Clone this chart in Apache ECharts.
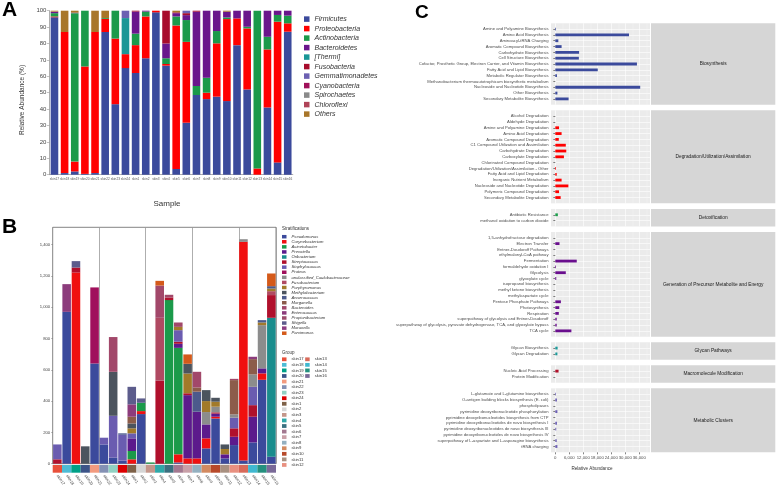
<!DOCTYPE html>
<html><head><meta charset="utf-8">
<script src="https://cdn.jsdelivr.net/npm/echarts@6/dist/echarts.min.js"></script>
<style>html,body{margin:0;padding:0;background:#fff}#c{width:777px;height:489px}</style>
</head><body><div id="c"></div><script>
// ---------- shared ----------
const samples = ['skin17','skin18','skin19','skin20','skin21','skin22','skin23','skin24','skin1','skin2','skin3','skin4','skin5','skin6','skin7','skin8','skin9','skin10','skin11','skin12','skin13','skin14','skin15','skin16'];

// ---------- Panel A : relative abundance (%) by phylum ----------
const phyla = ['Firmicutes','Proteobacteria','Actinobacteria','Bacteroidetes','[Thermi]','Fusobacteria','Gemmatimonadetes','Cyanobacteria','Spirochaetes','Chloroflexi','Others'];
const phylaColors = ['#3B4A9C','#FF0000','#1B9A4A','#6A168C','#1A9696','#A80C2C','#6C60B2','#A0105A','#8A8A8A','#B04458','#A8762A'];
const firmicutes     = [96,1,2,0.5,1,87,43,65,62,71,99,66.5,3.5,31.7,48.6,46.1,47.6,44.9,79,52,0,41,7.5,87.2];
const proteobacteria = [0.5,86,6,65.5,86,8,40,8.5,17,25.5,1,1,87.5,49.3,0,3.9,32.5,50,16.3,37.2,3.8,35.4,85.8,5.1];
const actinobacteria = [2,0,90.5,34,0,0.5,17,0,7,3,0,3.5,5.5,13.3,5.5,9.1,7.5,1,0,1,96.2,7.7,4.1,4.7];
const bacteroidetes  = [0.8,0,0.3,0,0,0,0,0,13.5,0.5,0,9,2,3,45.3,40.9,12.4,3.5,4.7,9.8,0,15.9,2.6,3];
const thermi         = [0,0,0,0,0,0,0,22,0,0,0,0,0,0,0,0,0,0,0,0,0,0,0,0];
const fusobacteria   = [0,0,0,0,0,0,0,0,0.5,0,0,20,0.5,1.2,0.6,0,0,0,0,0,0,0,0,0];
const gemmatimonadetes = [0,0,0,0,0,0,0,4.5,0,0,0,0,0,1.5,0,0,0,0,0,0,0,0,0,0];
const cyanobacteria  = [0,0,0,0,0,0,0,0,0,0,0,0,0,0,0,0,0,0,0,0,0,0,0,0];
const spirochaetes   = [0,0,0,0,0,0,0,0,0,0,0,0,0,0,0,0,0,0,0,0,0,0,0,0];
const chloroflexi    = [0.2,0,0,0,0,0,0,0,0,0,0,0,0,0,0,0,0,0,0,0,0,0,0,0];
const othersA        = [0.5,13,1.2,0,13,4.5,0,0,0,0,0,0,1,0,0,0,0,0.6,0,0,0,0,0,0];
const aValues = [firmicutes,proteobacteria,actinobacteria,bacteroidetes,thermi,fusobacteria,gemmatimonadetes,cyanobacteria,spirochaetes,chloroflexi,othersA];
const aTicks = [0,10,20,30,40,50,60,70,80,90,100];

// ---------- Panel B : absolute counts by genus ----------
const genera = ['Pseudomonas','Corynebacterium','Acinetobacter','Prevotella','Oribacterium','Streptococcus','Staphylococcus','Proteus','unclassified_Caulobacteraceae','Fusobacterium','Porphyromonas','Methylobacterium','Anaerococcus','Morganella','Bacteroides','Enterococcus','Propionibacterium','Shigella','Moraxella','Parvimonas'];
const generaColors = ['#3B4A9C','#F01010','#1B9A4A','#5C1A8C','#1A8C8C','#B0102C','#6A5CB0','#A0105C','#8C8C8C','#B04A62','#A27A2A','#4C545E','#4C5A8C','#8C5C4A','#A2486A','#8C3C7C','#9C4C6C','#5C5C8C','#8C3C82','#D45A1A'];
const pseudomonas      = [0,970,0,0,640,123,38,20,0,317,0,0,0,8,0,0,98,289,34,119,21,136,536,45];
const corynebacterium  = [0,0,1221,0,0,0,0,0,28,19,0,0,0,52,34,34,64,11,0,0,1396,0,41,0];
const acinetobacter    = [0,0,0,0,0,0,0,0,53,53,8,0,1045,680,0,0,0,0,0,0,0,0,0,0];
const prevotella       = [0,0,0,0,0,0,0,0,81,0,0,0,0,26,404,298,89,20,26,53,0,164,32,0];
const oribacterium     = [0,0,0,0,0,0,0,0,0,0,0,0,0,0,0,0,0,0,0,0,0,0,0,887];
const streptococcus    = [28,0,32,0,0,0,0,0,0,0,0,530,17,13,12,0,0,8,0,54,0,74,0,145];
const staphylococcus   = [95,0,0,0,0,43,268,165,32,0,0,0,0,74,0,0,0,0,0,68,0,117,0,0];
const proteus          = [0,0,0,0,486,0,0,0,0,0,0,0,0,0,0,0,0,0,0,0,0,0,0,0];
const unclassifiedCaulo= [0,0,0,0,0,0,0,0,0,0,0,0,0,0,0,0,79,36,0,21,17,79,276,0];
const fusobacterium    = [0,0,0,0,0,0,0,0,0,0,0,402,0,0,0,0,0,0,0,0,0,0,0,25];
const porphyromonas    = [0,0,0,0,0,0,0,0,32,0,0,0,0,21,126,0,70,32,34,0,0,0,17,17];
const methylobacterium = [0,0,0,111,0,0,281,0,31,0,0,0,0,0,62,0,70,25,29,0,0,0,0,0];
const anaerococcus     = [0,0,0,0,0,0,0,9,0,0,0,0,0,0,0,128,0,0,0,0,0,0,15,15];
const morganella       = [0,0,0,0,0,0,0,0,43,0,0,0,0,0,0,27,0,0,0,219,0,98,0,0];
const bacteroides      = [0,0,0,0,0,0,222,0,0,0,0,206,17,28,0,100,0,0,0,8,0,0,0,0];
const enterococcus     = [0,177,0,0,0,0,0,0,79,0,0,0,0,0,0,0,0,0,0,0,0,15,0,0];
const propionibacterium= [0,0,0,0,0,0,0,0,0,0,0,0,0,0,0,0,0,0,0,0,0,0,0,0];
const shigella         = [0,0,41,0,0,0,0,0,112,28,0,0,0,0,0,0,0,0,0,0,0,0,0,0];
const moraxella        = [0,0,0,0,0,0,0,0,0,0,0,0,0,0,0,0,0,0,0,0,0,0,0,0];
const parvimonas       = [0,0,0,0,0,0,0,0,0,0,0,30,0,0,60,0,0,0,0,0,0,0,0,81];
const bValues = [pseudomonas,corynebacterium,acinetobacter,prevotella,oribacterium,streptococcus,staphylococcus,proteus,unclassifiedCaulo,fusobacterium,porphyromonas,methylobacterium,anaerococcus,morganella,bacteroides,enterococcus,propionibacterium,shigella,moraxella,parvimonas];
const groupColors = ['#E8503A','#4DBBD5','#00A087','#3C5488','#F39B7F','#8491B4','#91D1C2','#DC0000','#7E6148','#D5D5D5','#C4968A','#2FA8A8','#3A7080','#A37890','#C9A0A8','#94B0C0','#D38A60','#B84A2A','#A89080','#E89080','#D86A5A','#40B8D0','#24907E','#7A6A98'];

// ---------- Panel C : pathway abundance ----------
const bioNames = ['Amine and Polyamine Biosynthesis','Amino Acid Biosynthesis','Aminoacyl-tRNA Charging','Aromatic Compound Biosynthesis','Carbohydrate Biosynthesis','Cell Structure Biosynthesis','Cofactor, Prosthetic Group, Electron Carrier, and Vitamin Biosynthesis','Fatty Acid and Lipid Biosynthesis','Metabolic Regulator Biosynthesis','Methanobacterium thermoautotrophicum biosynthetic metabolism','Nucleoside and Nucleotide Biosynthesis','Other Biosynthesis','Secondary Metabolite Biosynthesis'];
const bioVals = [300,31600,1300,2700,10200,10100,35000,18200,700,0,36400,900,5700];
const degNames = ['Alcohol Degradation','Aldehyde Degradation','Amine and Polyamine Degradation','Amino Acid Degradation','Aromatic Compound Degradation','C1 Compound Utilization and Assimilation','Carbohydrate Degradation','Carboxylate Degradation','Chlorinated Compound Degradation','Degradation/Utilization/Assimilation - Other','Fatty Acid and Lipid Degradation','Inorganic Nutrient Metabolism','Nucleoside and Nucleotide Degradation','Polymeric Compound Degradation','Secondary Metabolite Degradation'];
const degVals = [0,0,1600,2700,1500,4500,4700,3700,0,300,600,2700,5600,1600,2300];
const detoxNames = ['Antibiotic Resistance','methanol oxidation to carbon dioxide'];
const detoxVals = [1100,0];
const genNames = ['1,5-anhydrofructose degradation','Electron Transfer','Entner-Doudoroff Pathways','ethylmalonyl-CoA pathway','Fermentation','formaldehyde oxidation I','Glycolysis','glyoxylate cycle','isopropanol biosynthesis','methyl ketone biosynthesis','methylaspartate cycle','Pentose Phosphate Pathways','Photosynthesis','Respiration','superpathway of glycolysis and Entner-Doudoroff','superpathway of glycolysis, pyruvate dehydrogenase, TCA, and glyoxylate bypass','TCA cycle'];
const genVals = [0,1800,0,0,9200,300,4500,400,0,0,0,2400,1700,1500,600,600,6900];
const glycanNames = ['Glycan Biosynthesis','Glycan Degradation'];
const glycanVals = [1000,900];
const macroNames = ['Nucleic Acid Processing','Protein Modification'];
const macroVals = [1400,0];
const metaNames = ['L-glutamate and L-glutamine biosynthesis','O-antigen building blocks biosynthesis (E. coli)','phospholipases','pyrimidine deoxyribonucleotide phosphorylation','pyrimidine deoxyribonucleotides biosynthesis from CTP','pyrimidine deoxyribonucleotides de novo biosynthesis I','pyrimidine deoxyribonucleotides de novo biosynthesis III','pyrimidine deoxyribonucleotides de novo biosynthesis IV','superpathway of L-aspartate and L-asparagine biosynthesis','tRNA charging'];
const metaVals = [300,700,0,900,0,700,400,0,600,900];
const stripLabels = ['Biosynthesis','Degradation/Utilization/Assimilation','Detoxification','Generation of Precursor Metabolite and Energy','Glycan Pathways','Macromolecule Modification','Metabolic Clusters'];
const cColors = ['#3B4A9C','#FF0000','#1B9E4B','#6A0F8E','#1A9A9A','#B0102A','#6C5FB5'];
const cTicks = [0,6000,12000,18000,24000,30000,36000];

// ---------- build option ----------
const font = 'Liberation Sans, Arial, sans-serif';
const grids = [], xAxes = [], yAxes = [], series = [], graphics = [];

// Panel A
grids.push({left:49.4, right:777-292.8, top:10.7, bottom:489-174.7});
xAxes.push({type:'category', gridIndex:0, data:samples,
  axisLine:{lineStyle:{color:'#999', width:0.8}}, axisTick:{length:1.5, alignWithLabel:true, lineStyle:{color:'#999',width:0.6}},
  axisLabel:{fontSize:3.2, color:'#555', margin:3, interval:0}});
yAxes.push({type:'value', gridIndex:0, min:aTicks[0], max:aTicks[aTicks.length-1], interval:aTicks[1]-aTicks[0],
  axisLine:{show:true, lineStyle:{color:'#999', width:0.8}}, axisTick:{show:true, length:2.5, lineStyle:{color:'#999', width:0.6}},
  axisLabel:{fontSize:6, color:'#444', margin:3}, splitLine:{show:false}});
phyla.forEach((p,i)=>series.push({type:'bar', name:p, xAxisIndex:0, yAxisIndex:0, stack:'A', data:aValues[i],
  barCategoryGap:'25%', itemStyle:{color:phylaColors[i]}}));

// Panel B main
grids.push({left:52.7, right:777-276, top:227.3, bottom:489-463.7, show:true, borderColor:'#666', borderWidth:0.8, backgroundColor:'transparent'});
xAxes.push({type:'category', gridIndex:1, data:samples, axisLine:{show:false}, axisTick:{show:false}, axisLabel:{show:false},
  splitLine:{show:true, lineStyle:{color:'#999', width:0.8}}});
yAxes.push({type:'value', gridIndex:1, min:0, max:1510, interval:200,
  axisLine:{show:false}, axisTick:{show:true, length:1.5, lineStyle:{color:'#666', width:0.5}},
  axisLabel:{fontSize:4.2, color:'#444', margin:2.5, showMaxLabel:false, formatter:v=>v.toLocaleString('en-US')},
  splitLine:{show:false}});
genera.forEach((g,i)=>series.push({type:'bar', name:g, xAxisIndex:1, yAxisIndex:1, stack:'B', data:bValues[i],
  barCategoryGap:'8%', itemStyle:{color:generaColors[i]}}));

// Panel B group strip
grids.push({left:52.7, right:777-276, top:465, height:7.7});
xAxes.push({type:'category', gridIndex:2, data:samples, axisLine:{show:false}, axisTick:{show:false},
  axisLabel:{fontSize:4, color:'#444', rotate:-55, margin:2.5, interval:0}});
yAxes.push({type:'value', gridIndex:2, min:0, max:1, show:false});
samples.forEach((s,i)=>series.push({type:'bar', name:s, xAxisIndex:2, yAxisIndex:2, stack:'G', barCategoryGap:'0%',
  data:samples.map((t,j)=> j===i ? 1 : '-'), itemStyle:{color:groupColors[i]}}));

// Panel C facets
const cPanels = [
  {names:bioNames, vals:bioVals}, {names:degNames, vals:degVals}, {names:detoxNames, vals:detoxVals},
  {names:genNames, vals:genVals}, {names:glycanNames, vals:glycanVals}, {names:macroNames, vals:macroVals},
  {names:metaNames, vals:metaVals}];
const u = 5.815, gap = 5.6, x0 = 555.3, bgLeft = 551, pRight = 650, sL = 651, sR = 775.3;
let yy = 23.3;
cPanels.forEach((p,k)=>{
  const gi = grids.length, h = (p.names.length+1)*u, last = k===cPanels.length-1;
  grids.push({left:x0, width:pRight-x0, top:yy, height:h, show:true, backgroundColor:'#EBEBEB', borderWidth:0});
  graphics.push({type:'rect', shape:{x:bgLeft, y:yy, width:x0-bgLeft, height:h}, style:{fill:'#EBEBEB'}, silent:true, z:-10});
  graphics.push({type:'rect', shape:{x:sL, y:yy, width:sR-sL, height:h}, style:{fill:'#D6D6D6'}, silent:true, z:-10});
  graphics.push({type:'text', x:(sL+sR)/2, y:yy+h/2, style:{text:stripLabels[k], fontSize:4.8, fill:'#1A1A1A', fontFamily:font, align:'center', verticalAlign:'middle'}, silent:true});
  xAxes.push({type:'value', gridIndex:gi, min:cTicks[0], max:40600, interval:cTicks[1]-cTicks[0],
    axisLine:{show:false}, axisTick:{show:last, length:2, lineStyle:{color:'#333', width:0.6}},
    axisLabel:{show:last, fontSize:4.3, color:'#4D4D4D', margin:3.5, showMaxLabel:false},
    splitLine:{show:true, lineStyle:{color:'#FFFFFF', width:0.6}},
    minorTick:{show:false, splitNumber:2}, minorSplitLine:{show:true, lineStyle:{color:'#F6F6F6', width:0.3}}});
  yAxes.push({type:'category', gridIndex:gi, data:[''].concat(p.names, ['']), inverse:true, boundaryGap:false, offset:4.3,
    axisLine:{show:false}, axisTick:{show:true, length:2, lineStyle:{color:'#333', width:0.6}, interval:(i,v)=>v!==''},
    axisLabel:{fontSize:4.2, color:'#4D4D4D', margin:2.5, interval:0},
    splitLine:{show:true, lineStyle:{color:'#FFFFFF', width:0.6}, interval:(i,v)=>v!==''}});
  series.push({type:'bar', name:stripLabels[k], xAxisIndex:gi, yAxisIndex:gi, barWidth:2.8,
    data:['-'].concat(p.vals, ['-']), itemStyle:{color:cColors[k]}});
  yy += h + gap;
});

// Text decorations
const T = (text, x, y, size, opts={}) => ({type:'text', x, y, silent:true, rotation:opts.rot||0,
  style:{text, fontSize:size, fontFamily:font, fill:opts.fill||'#000', fontWeight:opts.bold?'bold':'normal',
         align:opts.align||'left', verticalAlign:opts.va||'top'}});
graphics.push(T('A', 2, 0, 21, {bold:true}));
graphics.push(T('B', 2, 217, 21, {bold:true}));
graphics.push(T('C', 415, 3, 19, {bold:true}));
graphics.push(T('Sample', 167, 204, 8, {fill:'#333', align:'center', va:'middle'}));
graphics.push(T('Relative Abundance (%)', 22, 100, 6.5, {fill:'#333', align:'center', va:'middle', rot:Math.PI/2}));
graphics.push(T('Stratifications', 282, 229, 4.5, {fill:'#333', va:'middle'}));
graphics.push(T('Group', 282, 352.3, 4.5, {fill:'#333', va:'middle'}));
graphics.push(T('Relative Abundance', 592, 469, 4.6, {fill:'#333', align:'center', va:'middle'}));

const option = {
  animation:false,
  textStyle:{fontFamily:font},
  grid:grids, xAxis:xAxes, yAxis:yAxes, series:series,
  legend:[
    {data:phyla, left:304, top:15.6, orient:'vertical', icon:'rect', itemWidth:5.5, itemHeight:5.5, itemGap:2.5, padding:0, selectedMode:false,
     textStyle:{fontSize:7, fontStyle:'italic', color:'#333', lineHeight:5.5, fontFamily:font}},
    {data:genera, left:282, top:234.7, orient:'vertical', icon:'rect', itemWidth:4.5, itemHeight:3.5, itemGap:1.08, padding:0, selectedMode:false,
     textStyle:{fontSize:4.2, fontStyle:'italic', color:'#333', lineHeight:4, fontFamily:font}},
    {data:samples, left:282, top:357.3, height:111, orient:'vertical', icon:'rect', itemWidth:4.5, itemHeight:3.8, itemGap:1.56, padding:0, selectedMode:false,
     textStyle:{fontSize:4.2, color:'#333', lineHeight:4, fontFamily:font}}
  ],
  graphic:{elements:graphics}
};
const chart = echarts.init(document.getElementById('c'), null, {renderer:'canvas'});
chart.setOption(option);
</script></body></html>
